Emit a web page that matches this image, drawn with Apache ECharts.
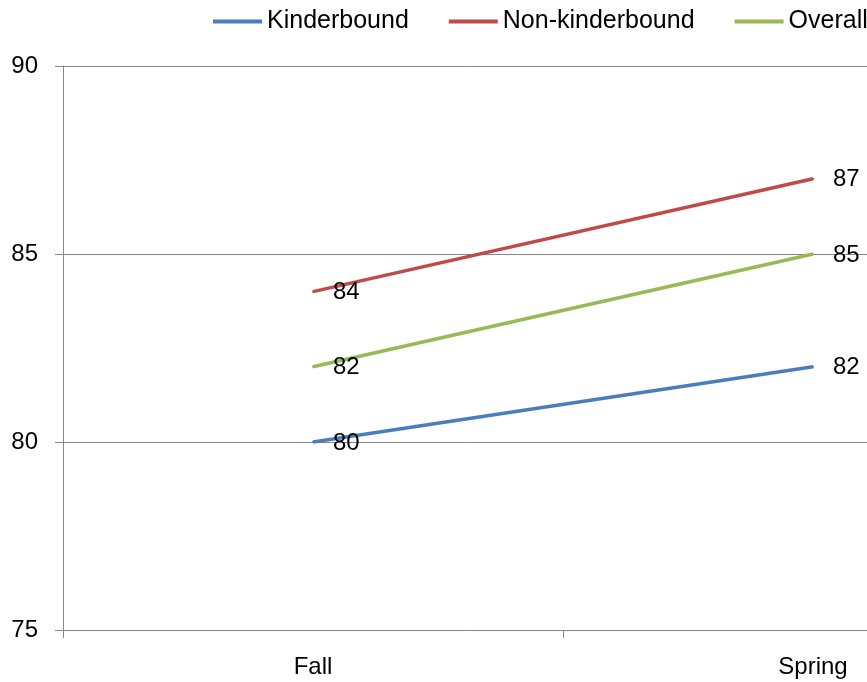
<!DOCTYPE html>
<html>
<head>
<meta charset="utf-8">
<script src="https://cdn.jsdelivr.net/npm/echarts@6/dist/echarts.min.js"></script>
<style>
  html, body { margin: 0; padding: 0; background: #fff; }
  #chart { width: 867px; height: 682px; }
</style>
</head>
<body>
<div id="chart"></div>
<script>
const terms = ['Fall', 'Spring'];
const kinderbound = [80, 82];
const nonKinderbound = [84, 87];
const overall = [82, 85];
const yTicks = { min: 75, max: 90, step: 5 };

const chart = echarts.init(document.getElementById('chart'));
const font = 'Liberation Sans, Arial, sans-serif';

const makeSeries = (name, data, color) => ({
  name,
  type: 'line',
  data,
  symbol: 'circle',
  symbolSize: 2,
  itemStyle: { color },
  lineStyle: { color, width: 3.5 },
  label: {
    show: true,
    position: 'right',
    distance: 19,
    offset: [0, 1],
    color: '#000',
    fontSize: 24,
    fontFamily: font,
  },
  emphasis: { disabled: true },
});

chart.setOption({
  animation: false,
  textStyle: { fontFamily: font },
  legend: {
    left: 208,
    top: 4,
    width: 700,
    padding: 5,
    icon: 'rect',
    itemWidth: 49,
    itemHeight: 4,
    itemGap: 40,
    textStyle: { fontSize: 25, color: '#000', fontFamily: font },
  },
  // the right part of the plot runs past the picture edge, as in the original
  grid: { left: 63, top: 66, width: 1000, height: 564, outerBoundsMode: 'none', containLabel: false },
  xAxis: {
    type: 'category',
    data: terms,
    boundaryGap: true,
    axisLine: { lineStyle: { color: '#868686', width: 1 } },
    axisTick: { show: true, length: 8, lineStyle: { color: '#868686' } },
    axisLabel: { fontSize: 24, color: '#000', margin: 25, fontFamily: font },
  },
  yAxis: {
    type: 'value',
    min: yTicks.min,
    max: yTicks.max,
    interval: yTicks.step,
    axisLine: { show: true, lineStyle: { color: '#868686', width: 1 } },
    axisTick: { show: true, length: 8, lineStyle: { color: '#868686' } },
    axisLabel: { fontSize: 24, color: '#000', margin: 25, fontFamily: font },
    splitLine: { lineStyle: { color: '#868686', width: 1 } },
  },
  series: [
    makeSeries('Kinderbound', kinderbound, '#4A7EBB'),
    makeSeries('Non-kinderbound', nonKinderbound, '#BE4B48'),
    makeSeries('Overall', overall, '#98B954'),
  ],
});
</script>
</body>
</html>
